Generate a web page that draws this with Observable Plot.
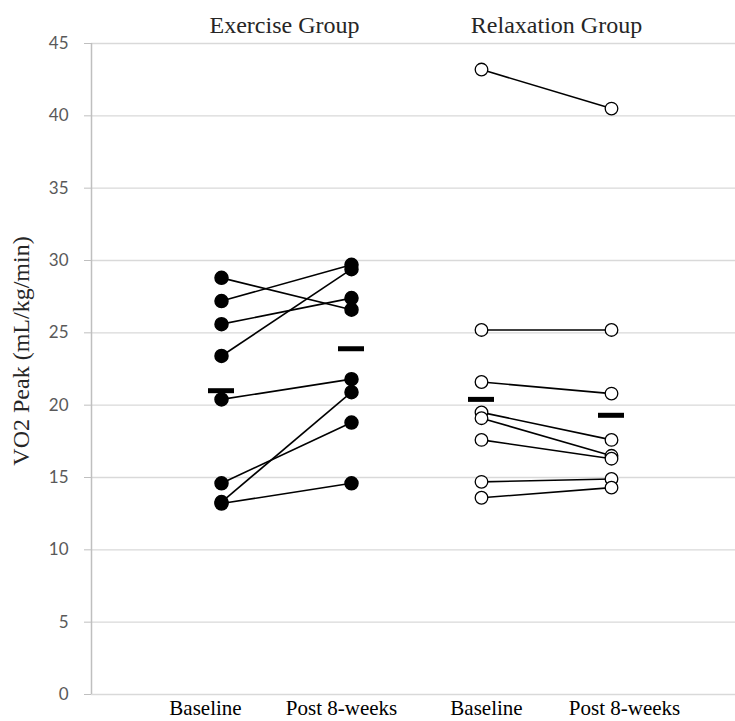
<!DOCTYPE html>
<html>
<head>
<meta charset="utf-8">
<script src="https://cdn.jsdelivr.net/npm/d3@7"></script>
<script src="https://cdn.jsdelivr.net/npm/@observablehq/plot@0.6"></script>
<style>
  html, body { margin: 0; padding: 0; background: #fff; }
</style>
</head>
<body>
<div id="chart"></div>
<script>
// Category positions (1..4) and labels
const xLabels = ["Baseline", "Post 8-weeks", "Baseline", "Post 8-weeks"];
const groupLabels = ["Exercise Group", "Relaxation Group"];
const yTicks = [0, 5, 10, 15, 20, 25, 30, 35, 40, 45];

// Paired subject values (baseline -> post)
const exerciseBaseline = [28.8, 27.2, 25.6, 23.4, 20.4, 14.6, 13.3, 13.2];
const exercisePost     = [26.6, 29.7, 27.4, 29.4, 21.8, 18.8, 20.9, 14.6];
const relaxBaseline    = [43.2, 25.2, 21.6, 19.5, 19.1, 17.6, 14.7, 13.6];
const relaxPost        = [40.5, 25.2, 20.8, 17.6, 16.5, 16.3, 14.9, 14.3];

// Group mean markers (Exercise baseline, Exercise post, Relaxation baseline, Relaxation post)
const meanValues = [21.0, 23.9, 20.4, 19.3];

const pairs = [];
exerciseBaseline.forEach((v, i) => pairs.push({group: "Exercise", x1: 1, x2: 2, y1: v, y2: exercisePost[i]}));
relaxBaseline.forEach((v, i) => pairs.push({group: "Relaxation", x1: 3, x2: 4, y1: v, y2: relaxPost[i]}));

const exPoints = [
  ...exerciseBaseline.map(v => ({x: 1, y: v})),
  ...exercisePost.map(v => ({x: 2, y: v}))
];
const rxPoints = [
  ...relaxBaseline.map(v => ({x: 3, y: v})),
  ...relaxPost.map(v => ({x: 4, y: v}))
];
const means = meanValues.map((v, i) => ({x: i + 1, y: v}));

const serif = "'Liberation Serif', 'Times New Roman', serif";
const sans = "Lato, 'Liberation Sans', sans-serif";

// small horizontal nudges of the text labels, as in the original layout
const xLabelShift = [-16, -10, 5, 13];
const groupShift = [-2, 10];

const xLabelMarks = xLabels.map((lab, i) =>
  Plot.axisX({ticks: [i + 1], tickSize: 0, tickPadding: 6, tickFormat: () => lab,
              dx: xLabelShift[i], fontSize: 21, fontFamily: serif, fill: "#000", label: null})
);
const groupMarks = groupLabels.map((lab, i) =>
  Plot.axisX({anchor: "top", ticks: [1.5 + 2 * i], tickSize: 0, tickPadding: 11, tickFormat: () => lab,
              dx: groupShift[i], fontSize: 24, fontFamily: serif, fill: "#262626", label: null})
);

const chart = Plot.plot({
  width: 735,
  height: 721,
  marginLeft: 91,
  marginRight: 0,
  marginTop: 43,
  marginBottom: 27,
  x: {domain: [0, (735 - 91) / 130], axis: null},
  y: {domain: [0, 45], axis: null},
  marks: [
    // gridlines
    Plot.ruleY(yTicks, {stroke: "#d9d9d9", strokeWidth: 1.3}),
    // y axis line
    Plot.ruleX([0], {y1: 0, y2: 45, stroke: "#bfbfbf", strokeWidth: 1.5}),
    // y ticks and labels
    Plot.axisY({ticks: yTicks, tickSize: 7, tickPadding: 16, stroke: "#bfbfbf", fill: "#595959",
                fontSize: 17, fontFamily: sans, label: null}),
    ...xLabelMarks,
    ...groupMarks,
    // y axis title
    Plot.text(["VO2 Peak (mL/kg/min)"], {frameAnchor: "left", textAnchor: "middle", rotate: -90,
                dx: -70, dy: -18, fontSize: 24, fontFamily: serif, fill: "#262626"}),
    // subject lines
    Plot.link(pairs, {x1: "x1", x2: "x2", y1: "y1", y2: "y2", stroke: "#000", strokeWidth: 1.6}),
    // points
    Plot.dot(exPoints, {x: "x", y: "y", r: 6.5, fill: "#000", stroke: "#000"}),
    Plot.dot(rxPoints, {x: "x", y: "y", r: 6.3, fill: "#fff", stroke: "#000", strokeWidth: 1.3}),
    // mean markers
    Plot.ruleY(means, {y: "y", x1: d => d.x - 0.1, x2: d => d.x + 0.1, stroke: "#000", strokeWidth: 5})
  ]
});

document.getElementById("chart").appendChild(chart);
</script>
</body>
</html>
